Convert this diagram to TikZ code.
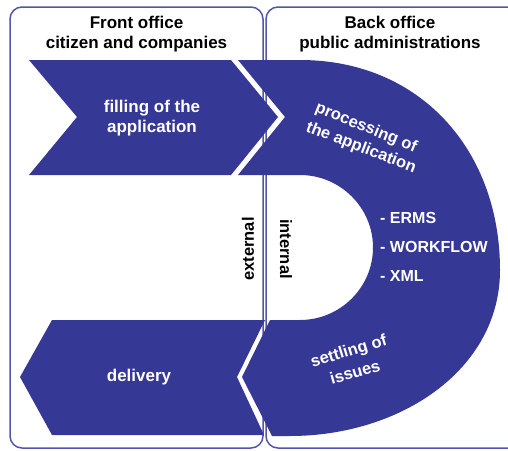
\documentclass[tikz,border=0pt]{standalone}
\usepackage{fontspec}
\setmainfont{Liberation Sans}
\definecolor{fillblue}{HTML}{363895}
\definecolor{panelblue}{HTML}{5156A8}
\tikzset{
  panel/.style={draw=panelblue, line width=1.5pt, rounded corners=12pt},
  band/.style={fill=fillblue, draw=none},
  head/.style={align=center, inner sep=0pt, font=\fontsize{17}{20}\selectfont\bfseries, text=black},
  wtext/.style={align=center, inner sep=0pt, font=\fontsize{17}{20}\selectfont\bfseries, text=white},
  rtext/.style={inner sep=0pt, font=\fontsize{16.5}{19}\selectfont\bfseries, text=white},
  ltext/.style={inner sep=0pt, anchor=west, font=\fontsize{16}{19}\selectfont\bfseries, text=white},
  vtext/.style={inner sep=0pt, font=\fontsize{16.5}{19}\selectfont\bfseries, text=black}
}
\begin{document}
\begin{tikzpicture}[x=1pt, y=-1pt]
\useasboundingbox (0,0) rectangle (508,450);
\clip (0,0) rectangle (508,450);
% panels
\draw[panel] (10,7) rectangle (263,448);
\draw[panel] (266,7) rectangle (530,448);
% back office D band
\path[band] (238,60) -- (300,60) .. controls (420,60) and (500,150) .. (500,270)
  .. controls (500,370) and (400,436) .. (290,436) -- (272,436) -- (242,377) -- (270,320) -- (300,320)
  .. controls (340.2,320) and (373,287.4) .. (373,247.5)
  .. controls (373,207.6) and (340.2,175) .. (300,175) -- (238,175) -- (285,117) -- cycle;
% front office chevrons
\path[band] (29,60) -- (231,60) -- (278,117) -- (231,175) -- (29,175) -- (77,117) -- cycle;
\path[band] (52,320) -- (265,320) -- (237,377) -- (264,435) -- (52,435) -- (20,377) -- cycle;
% texts
\node[head] (fo) at (136.5,34.5) {Front office\\citizen and companies};
\node[head] (bo) at (390,34.5) {Back office\\public administrations};
\node[wtext] (fill) at (152,118.5) {filling of the\\application};
\node[wtext] (deliv) at (139,377) {delivery};
\node[rtext, rotate=-22] (proc1) at (366,128) {processing of};
\node[rtext, rotate=-21] (proc2) at (361,148) {the application};
\node[rtext, rotate=17] (settle1) at (349,352) {settling of};
\node[rtext, rotate=16] (settle2) at (355,372) {issues};
\node[ltext] (erms) at (380,218) {- ERMS};
\node[ltext] (wf) at (380,247) {- WORKFLOW};
\node[ltext] (xml) at (380,276) {- XML};
\node[vtext, rotate=90] (ext) at (248,249) {external};
\node[vtext, rotate=-90] (int) at (286,249) {internal};
\end{tikzpicture}
\end{document}
